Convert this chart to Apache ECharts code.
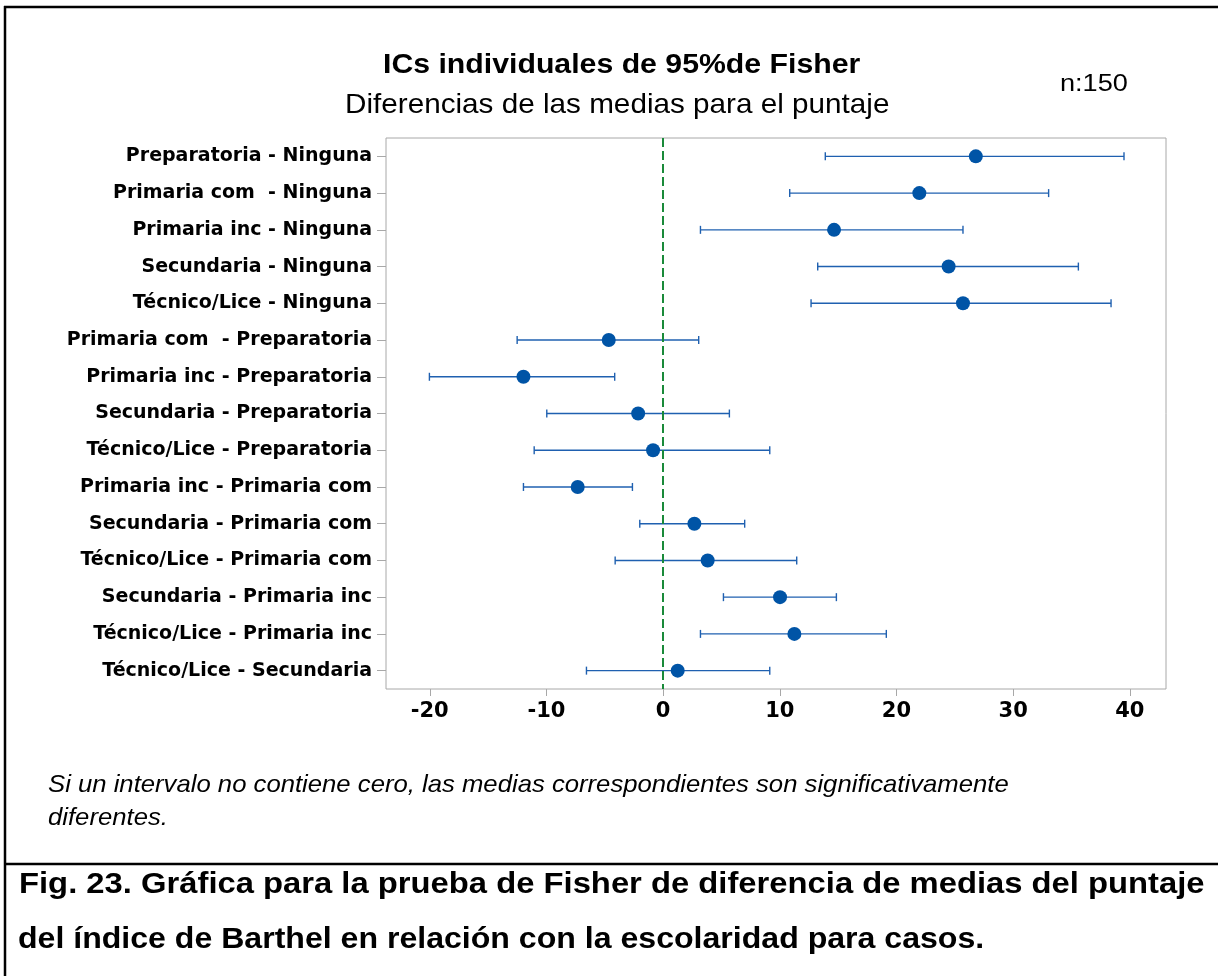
<!DOCTYPE html>
<html>
<head>
<meta charset="utf-8">
<script src="https://cdn.jsdelivr.net/npm/echarts@6.0.0/dist/echarts.min.js"></script>
<style>
html,body{margin:0;padding:0;background:#fff;}
#chart{width:1218px;height:976px;}
</style>
</head>
<body>
<div id="chart"></div>
<script>
const categories = [
  'Preparatoria - Ninguna',
  'Primaria com  - Ninguna',
  'Primaria inc - Ninguna',
  'Secundaria - Ninguna',
  'Técnico/Lice - Ninguna',
  'Primaria com  - Preparatoria',
  'Primaria inc - Preparatoria',
  'Secundaria - Preparatoria',
  'Técnico/Lice - Preparatoria',
  'Primaria inc - Primaria com',
  'Secundaria - Primaria com',
  'Técnico/Lice - Primaria com',
  'Secundaria - Primaria inc',
  'Técnico/Lice - Primaria inc',
  'Técnico/Lice - Secundaria'
];
const lower = [13.9, 10.85, 3.2, 13.25, 12.68, -12.51, -20.03, -9.97, -11.05, -11.97, -2.0, -4.11, 5.17, 3.2, -6.57];
const means = [26.8, 21.96, 14.65, 24.47, 25.7, -4.66, -11.97, -2.14, -0.86, -7.32, 2.68, 3.82, 10.02, 11.25, 1.25];
const upper = [39.5, 33.04, 25.7, 35.59, 38.39, 3.05, -4.15, 5.68, 9.14, -2.63, 6.99, 11.45, 14.85, 19.13, 9.14];
const xTicks = [-20, -10, 0, 10, 20, 30, 40];
const xMin = -23.75;
const xMax = 43.1;

const chart = echarts.init(document.getElementById('chart'), null, {renderer: 'canvas'});

const intervalData = categories.map((c, i) => [lower[i], upper[i], i]);
const meanData = categories.map((c, i) => [means[i], i]);

function txt(str, x, y, font, sx) {
  return {
    type: 'text', x: x, y: y, scaleX: sx,
    style: {text: str, fill: '#000', font: font, align: 'left', verticalAlign: 'middle'}
  };
}

const option = {
  animation: false,
  backgroundColor: '#ffffff',
  grid: {
    left: 386, right: 52, top: 138, bottom: 287,
    show: true, borderColor: '#a8a8a8', borderWidth: 1, backgroundColor: 'transparent'
  },
  xAxis: {
    type: 'value',
    min: xMin, max: xMax,
    axisLine: {show: false, onZero: false},
    splitLine: {show: false},
    axisTick: {show: true, length: 7, lineStyle: {color: '#a8a8a8', width: 1}, customValues: xTicks},
    axisLabel: {
      customValues: xTicks,
      margin: 12,
      color: '#000',
      fontFamily: 'DejaVu Sans',
      fontWeight: 'bold',
      fontSize: 21
    }
  },
  yAxis: {
    type: 'category',
    inverse: true,
    data: categories,
    axisLine: {show: false, onZero: false},
    splitLine: {show: false},
    axisTick: {show: true, alignWithLabel: true, length: 9, lineStyle: {color: '#a8a8a8', width: 1}},
    axisLabel: {
      margin: 14,
      color: '#000',
      fontFamily: 'DejaVu Sans',
      fontWeight: 'bold',
      fontSize: 19
    }
  },
  series: [
    {
      type: 'custom',
      data: intervalData,
      encode: {x: [0, 1], y: 2},
      renderItem: function (params, api) {
        const yi = api.value(2);
        const a = api.coord([api.value(0), yi]);
        const b = api.coord([api.value(1), yi]);
        const h = 4;
        const style = {stroke: '#1f60b0', lineWidth: 1.4};
        return {
          type: 'group',
          children: [
            {type: 'line', shape: {x1: a[0], y1: a[1], x2: b[0], y2: b[1]}, style: style},
            {type: 'line', shape: {x1: a[0], y1: a[1] - h, x2: a[0], y2: a[1] + h}, style: style},
            {type: 'line', shape: {x1: b[0], y1: b[1] - h, x2: b[0], y2: b[1] + h}, style: style}
          ]
        };
      },
      z: 3
    },
    {
      type: 'scatter',
      data: meanData,
      symbol: 'circle',
      symbolSize: 14,
      itemStyle: {color: '#0054a6', opacity: 1},
      z: 5,
      markLine: {
        silent: true,
        symbol: ['none', 'none'],
        label: {show: false},
        lineStyle: {color: '#1a8a3a', width: 2, type: [9, 4], opacity: 1},
        data: [{xAxis: 0}]
      }
    }
  ],
  graphic: [
    {type: 'line', shape: {x1: 4, y1: 7, x2: 1218, y2: 7}, style: {stroke: '#000', lineWidth: 2.5}},
    {type: 'line', shape: {x1: 5, y1: 6, x2: 5, y2: 976}, style: {stroke: '#000', lineWidth: 2.5}},
    {type: 'line', shape: {x1: 4, y1: 864, x2: 1218, y2: 864}, style: {stroke: '#000', lineWidth: 2.5}},
    txt('ICs individuales de 95%de Fisher', 383, 65, 'bold 28px "Liberation Sans", Arial, sans-serif', 1.08),
    txt('Diferencias de las medias para el puntaje', 345, 105, '28px "Liberation Sans", Arial, sans-serif', 1.06),
    txt('n:150', 1060, 84, '24px "Liberation Sans", Arial, sans-serif', 1.13),
    txt('Si un intervalo no contiene cero, las medias correspondientes son significativamente', 48, 785, 'italic 24px "Liberation Sans", Arial, sans-serif', 1.07),
    txt('diferentes.', 48, 818, 'italic 24px "Liberation Sans", Arial, sans-serif', 1.07),
    txt('Fig. 23. Gráfica para la prueba de Fisher de diferencia de medias del puntaje', 19, 885, 'bold 29px "Liberation Sans", Arial, sans-serif', 1.13),
    txt('del índice de Barthel en relación con la escolaridad para casos.', 18, 940, 'bold 29px "Liberation Sans", Arial, sans-serif', 1.106)
  ]
};
chart.setOption(option);
</script>
</body>
</html>
